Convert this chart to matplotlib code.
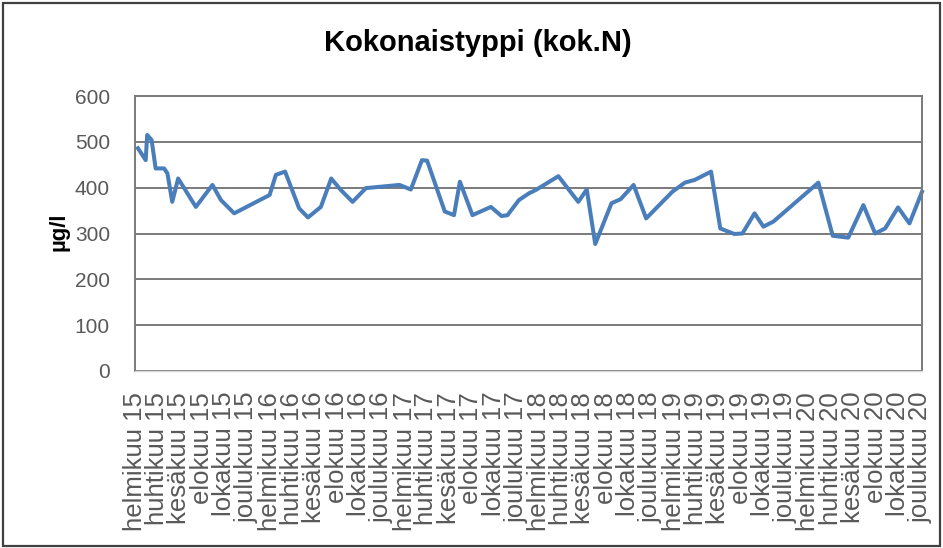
import datetime as dt

import matplotlib
matplotlib.use("Agg")
import matplotlib.pyplot as plt
import matplotlib.dates as mdates
from matplotlib.patches import Rectangle
from matplotlib.ticker import FuncFormatter

# sample dates and total nitrogen (µg/l)
dates = [
    "2015-02-09", "2015-03-02", "2015-03-06", "2015-03-18", "2015-03-29",
    "2015-04-21", "2015-04-30", "2015-05-13", "2015-05-29", "2015-07-16",
    "2015-08-30", "2015-09-22", "2015-10-28", "2016-02-01", "2016-02-18",
    "2016-03-14", "2016-04-21", "2016-05-15", "2016-06-19", "2016-07-17",
    "2016-08-12", "2016-09-13", "2016-10-19", "2017-01-18", "2017-02-18",
    "2017-03-20", "2017-04-03", "2017-05-21", "2017-06-15", "2017-07-01",
    "2017-08-04", "2017-09-23", "2017-10-22", "2017-11-07", "2017-12-08",
    "2018-01-05", "2018-01-23", "2018-03-25", "2018-05-18", "2018-06-10",
    "2018-07-03", "2018-08-16", "2018-09-10", "2018-10-15", "2018-11-18",
    "2019-01-28", "2019-03-03", "2019-03-30", "2019-05-13", "2019-06-07",
    "2019-07-15", "2019-08-06", "2019-09-08", "2019-10-02", "2019-10-29",
    "2020-02-28", "2020-04-07", "2020-05-19", "2020-06-29", "2020-07-31",
    "2020-08-27", "2020-10-01", "2020-11-01", "2020-12-05",
]
kok_n = [
    486, 460, 515, 504, 442, 442, 431, 369, 420, 358,
    406, 373, 344, 384, 428, 435, 355, 335, 358, 420,
    395, 369, 399, 406, 396, 460, 459, 348, 340, 413,
    340, 358, 338, 340, 373, 388, 395, 425, 369, 396,
    277, 366, 375, 406, 333, 391, 411, 417, 435, 311,
    299, 300, 344, 315, 326, 411, 295, 291, 362, 300,
    311, 357, 322, 391,
]
months_fi = ["tammikuu", "helmikuu", "maaliskuu", "huhtikuu", "toukokuu",
             "kesäkuu", "heinäkuu", "elokuu", "syyskuu", "lokakuu",
             "marraskuu", "joulukuu"]

x = [dt.datetime.strptime(d, "%Y-%m-%d") for d in dates]

plt.rcParams["font.family"] = ["Liberation Sans", "DejaVu Sans"]

fig = plt.figure(figsize=(9.43, 5.48), dpi=100)
ax = fig.add_axes([135 / 943, 1 - 371 / 548, 787 / 943, 275 / 548])

ax.plot(x, kok_n, color="#4A7EBB", lw=2.9, solid_joinstyle="round", clip_on=False)

ax.set_ylim(0, 600)
ax.set_yticks(range(0, 601, 100))
ax.set_xlim(dt.datetime(2015, 2, 1), dt.datetime(2020, 12, 5))
ax.xaxis.set_major_locator(mdates.MonthLocator(bymonth=[2, 4, 6, 8, 10, 12]))
ax.xaxis.set_major_formatter(FuncFormatter(
    lambda v, pos: "%s %02d" % (months_fi[mdates.num2date(v).month - 1],
                                mdates.num2date(v).year % 100)))

ax.grid(True, axis="y", color="#7a7a7a", lw=1.4)
ax.set_axisbelow(True)
for s in ["top", "right", "left"]:
    ax.spines[s].set_color("#7a7a7a")
    ax.spines[s].set_linewidth(1.4)
ax.spines["bottom"].set_color("#d9d9d9")
ax.spines["bottom"].set_linewidth(1.0)

ax.tick_params(axis="y", length=0, pad=18, labelsize=15, labelcolor="#595959")
ax.tick_params(axis="x", length=0, pad=15, labelsize=18.5, labelcolor="#595959",
               labelrotation=90)

ax.set_ylabel("µg/l", fontsize=16, fontweight="bold")
ax.yaxis.set_label_coords(-0.083, 0.505)

fig.text(478 / 943, 1 - 43 / 548, "Kokonaistyppi (kok.N)", fontsize=21,
         fontweight="bold", ha="center", va="center")

# chart border
fig.patches.append(Rectangle((0.003, 0.004), 0.994, 0.99, transform=fig.transFigure,
                             fill=False, edgecolor="#404040", lw=1.6))

fig.savefig("out.png", dpi=100)
